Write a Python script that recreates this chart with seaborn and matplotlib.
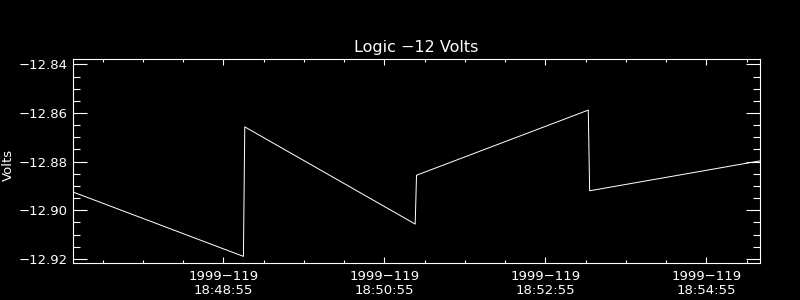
import matplotlib
matplotlib.use("Agg")
import matplotlib.pyplot as plt
import matplotlib.dates as mdates
import matplotlib.ticker as mticker
import seaborn as sns
import pandas as pd

# ---- data ----
times = ["1999-04-29 18:47:03", "1999-04-29 18:49:10", "1999-04-29 18:49:11",
         "1999-04-29 18:51:18", "1999-04-29 18:51:19", "1999-04-29 18:53:27",
         "1999-04-29 18:53:28", "1999-04-29 18:55:35"]
volts = [-12.8925, -12.9190, -12.8657, -12.9057, -12.8856, -12.8588,
         -12.8920, -12.8797]

xtick_times = ["1999-04-29 18:48:55", "1999-04-29 18:50:55",
               "1999-04-29 18:52:55", "1999-04-29 18:54:55"]
xtick_labels = ["1999\u2212119\n18:48:55", "1999\u2212119\n18:50:55",
                "1999\u2212119\n18:52:55", "1999\u2212119\n18:54:55"]
ytick_values = [-12.84, -12.86, -12.88, -12.90, -12.92]
ytick_labels = ["\u221212.84", "\u221212.86", "\u221212.88", "\u221212.90", "\u221212.92"]

title = "Logic \u221212 Volts"
ylabel = "Volts"

df = pd.DataFrame({"time": pd.to_datetime(times), "volts": volts})

sns.set_theme(style="dark")
plt.rcParams["font.family"] = ["DejaVu Sans"]

fig = plt.figure(figsize=(8, 3), dpi=100, facecolor="black")
ax = fig.add_axes([0.09125, 0.1243, 0.9504 - 0.09125, 0.8023 - 0.1243])
ax.set_facecolor("black")

sns.lineplot(data=df, x="time", y="volts", ax=ax, estimator=None, sort=False,
             color="white", linewidth=0.72)

ax.set_xlim(pd.Timestamp("1999-04-29 18:47:03"), pd.Timestamp("1999-04-29 18:55:35.2"))
ax.set_ylim(-12.9216, -12.8379)

ax.set_xticks(mdates.date2num(pd.to_datetime(xtick_times)))
ax.set_xticklabels(xtick_labels)
ax.xaxis.set_minor_locator(mdates.SecondLocator(bysecond=[25, 55]))
ax.set_yticks(ytick_values)
ax.set_yticklabels(ytick_labels)
ax.yaxis.set_minor_locator(mticker.MultipleLocator(0.005))

ax.grid(False)
for s in ax.spines.values():
    s.set_color("white")
    s.set_linewidth(0.8)
    s.set_visible(True)

ax.tick_params(axis="both", which="both", direction="in", colors="white",
               top=True, right=True, bottom=True, left=True, width=0.8)
ax.tick_params(axis="y", which="major", length=10, pad=4, labelsize=9.5)
ax.tick_params(axis="y", which="minor", length=5)
ax.tick_params(axis="x", which="major", length=4.5, pad=5, labelsize=9.5)
ax.tick_params(axis="x", which="minor", length=2.2)
for lbl in ax.get_xticklabels():
    lbl.set_horizontalalignment("center")
    lbl.set_linespacing(1.15)

ax.set_xlabel("")
ax.set_ylabel(ylabel, color="white", fontsize=9.5)
ax.yaxis.set_label_coords(-0.085, 0.48)
ax.set_title(title, color="white", fontsize=11.5, pad=5)

fig.savefig("out.png", dpi=100, facecolor="black")
